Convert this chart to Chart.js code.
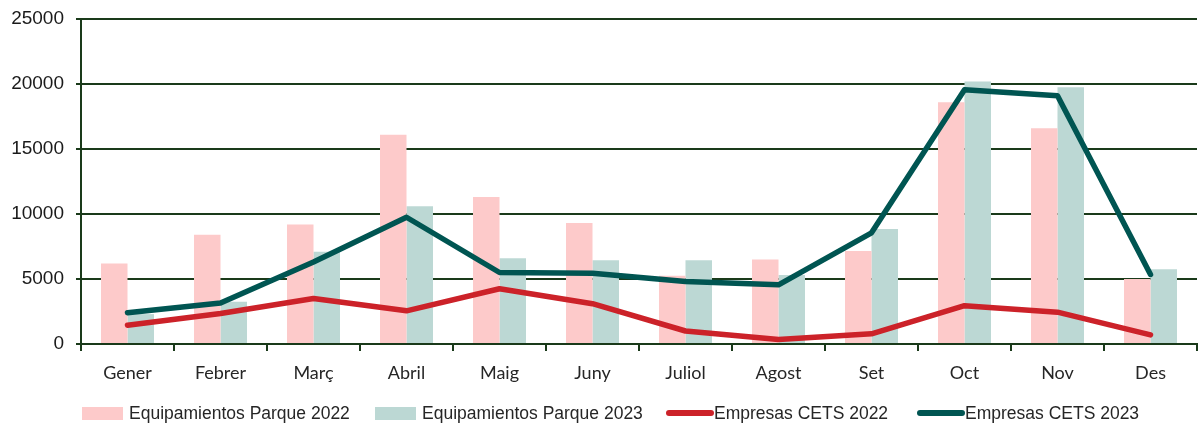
<!DOCTYPE html>
<html>
<head>
<meta charset="utf-8">
<script src="https://cdn.jsdelivr.net/npm/chart.js@4.4.0/dist/chart.umd.min.js"></script>
<style>
  body { margin: 0; background: #fff; }
  #wrap { position: relative; width: 1201px; height: 425px; }
  #legend { position: absolute; left: 0; top: 402px; width: 1201px; height: 22px;
            font-family: "Liberation Sans", Arial, sans-serif; font-size: 17.5px; color: #262626; }
  .item { position: absolute; top: 0; display: flex; align-items: center; height: 22px; white-space: nowrap; }
  .box { width: 41px; height: 13px; margin-right: 6px; }
  .ln { width: 48px; height: 6px; border-radius: 3px; margin-right: 0; }
</style>
</head>
<body>
<div id="wrap">
  <canvas id="chart" width="1201" height="425"></canvas>
  <div id="legend"></div>
</div>
<script>
// data
const months = ['Gener', 'Febrer', 'Març', 'Abril', 'Maig', 'Juny', 'Juliol', 'Agost', 'Set', 'Oct', 'Nov', 'Des'];
const equipParque2022 = [6200, 8400, 9200, 16100, 11300, 9300, 5250, 6500, 7150, 18600, 16600, 5000];
const equipParque2023 = [2300, 3250, 7100, 10600, 6600, 6450, 6450, 5300, 8850, 20200, 19750, 5750];
const empresasCets2022 = [1450, 2350, 3500, 2550, 4250, 3100, 1000, 350, 780, 2950, 2450, 700];
const empresasCets2023 = [2400, 3150, 6300, 9750, 5500, 5450, 4800, 4550, 8550, 19550, 19100, 5350];
const yTicks = [0, 5000, 10000, 15000, 20000, 25000];

const gridColor = '#1a3a1a';

document.addEventListener('DOMContentLoaded', function() {
    const ctx = document.getElementById('chart').getContext('2d');
    const chart = new Chart(ctx, {
        type: 'bar',
        data: {
            labels: months,
            datasets: [
                { type: 'line', label: 'Empresas CETS 2022', data: empresasCets2022, borderColor: '#cc2229',
                  backgroundColor: '#cc2229', borderWidth: 5.5, pointRadius: 0, tension: 0,
                  borderCapStyle: 'round', borderJoinStyle: 'round', order: 1 },
                { type: 'line', label: 'Empresas CETS 2023', data: empresasCets2023, borderColor: '#005552',
                  backgroundColor: '#005552', borderWidth: 5.5, pointRadius: 0, tension: 0,
                  borderCapStyle: 'round', borderJoinStyle: 'round', order: 0 },
                { label: 'Equipamientos Parque 2022', data: equipParque2022, backgroundColor: '#fdcaca', order: 2 },
                { label: 'Equipamientos Parque 2023', data: equipParque2023, backgroundColor: '#bcd8d4', order: 3 }
            ]
        },
        options: {
            responsive: false,
            animation: false,
            devicePixelRatio: 1,
            layout: { padding: { top: 19, right: 4, bottom: 31, left: 0 } },
            datasets: { bar: { categoryPercentage: 0.57, barPercentage: 1.0 } },
            plugins: { legend: { display: false }, tooltip: { enabled: false } },
            scales: {
                x: {
                    afterFit: s => { s.height = 50; },
                    grid: { display: true, drawOnChartArea: false, drawTicks: true, tickLength: 7,
                            color: gridColor, lineWidth: 2, offset: true },
                    border: { display: true, color: gridColor, width: 2 },
                    ticks: { color: '#262626', padding: 11, font: { family: 'Lato', size: 18 } }
                },
                y: {
                    min: 0, max: 25000,
                    afterFit: s => { s.width = 81; s.paddingTop = 0; s.paddingBottom = 0; },
                    afterBuildTicks: s => { s.ticks = yTicks.map(v => ({ value: v })); },
                    grid: { color: gridColor, lineWidth: 2, tickLength: 5 },
                    border: { display: true, color: gridColor, width: 2 },
                    ticks: { color: '#1a1a1a', padding: 12, font: { family: 'Liberation Sans', size: 19 },
                             callback: v => String(v) }
                }
            }
        }
    });

    // html legend in the reference order
    const legend = document.getElementById('legend');
    const order = [2, 3, 0, 1];
    const lefts = [82, 375, 666, 917];
    order.forEach((di, i) => {
        const ds = chart.data.datasets[di];
        const item = document.createElement('div');
        item.className = 'item';
        item.style.left = lefts[i] + 'px';
        const sw = document.createElement('span');
        sw.className = ds.type === 'line' ? 'ln' : 'box';
        sw.style.background = ds.backgroundColor;
        item.appendChild(sw);
        item.appendChild(document.createTextNode(ds.label));
        legend.appendChild(item);
    });
});
</script>
</body>
</html>
